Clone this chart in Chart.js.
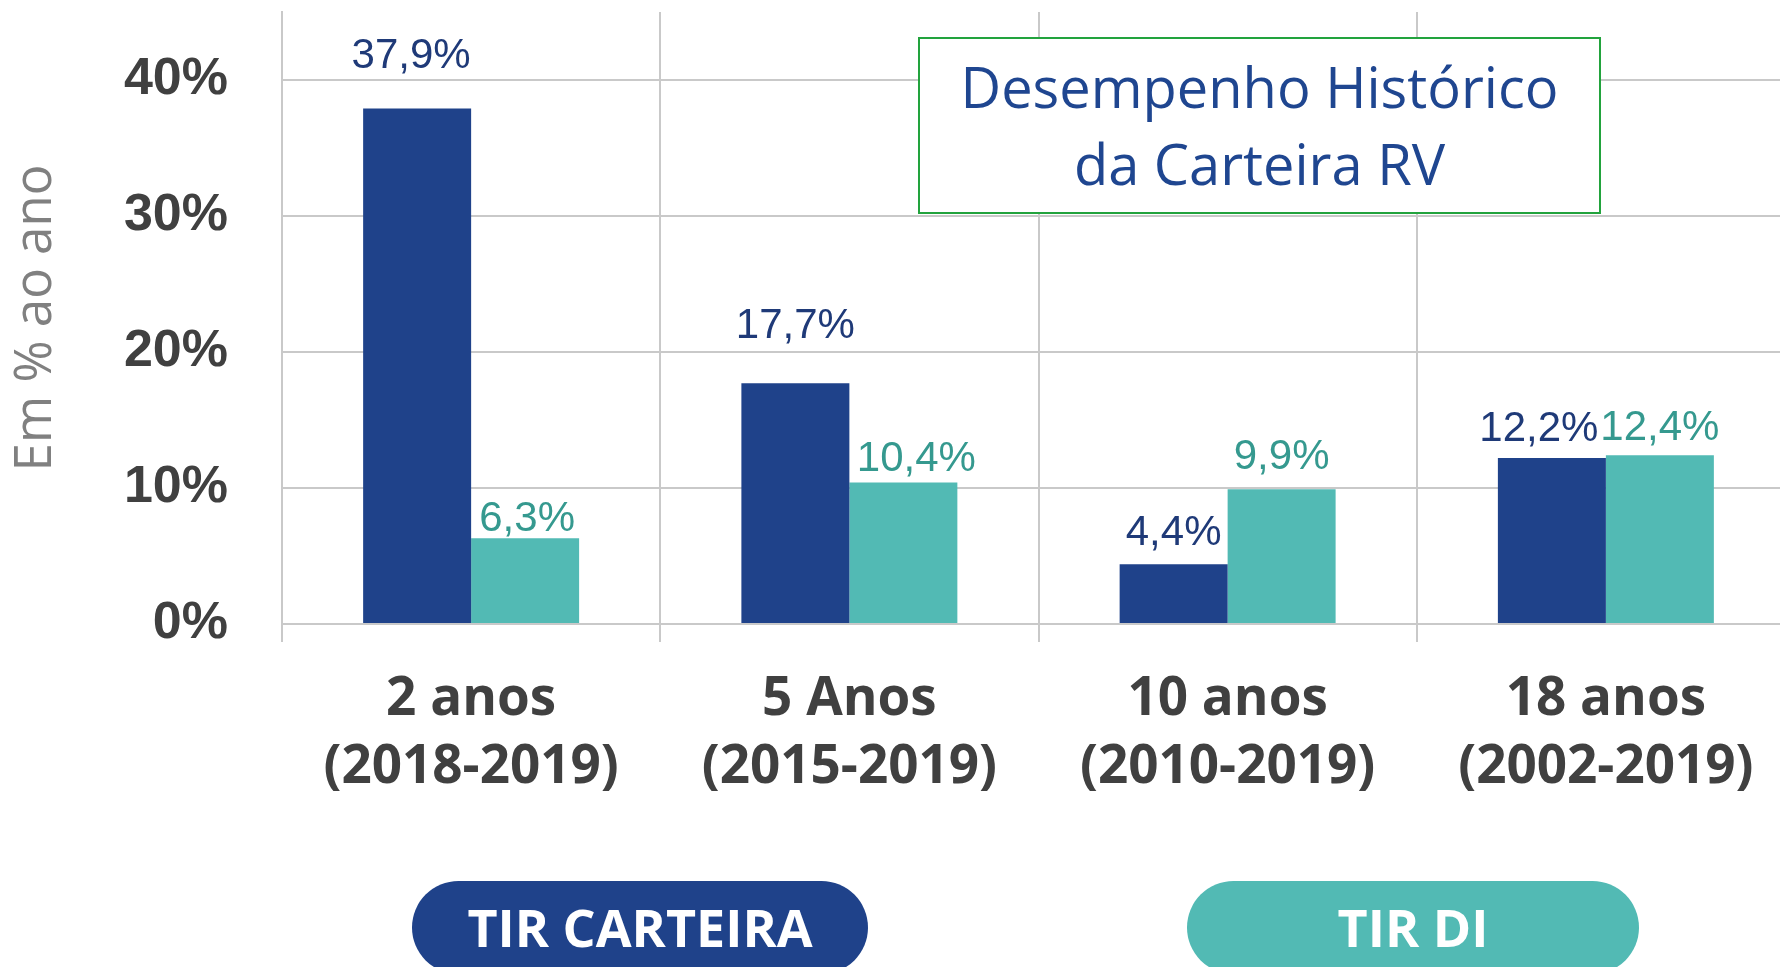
<!DOCTYPE html>
<html lang="pt-BR">
<head>
<meta charset="utf-8">
<title>Desempenho Histórico da Carteira RV</title>
<script src="https://cdn.jsdelivr.net/npm/chart.js@4.4.1/dist/chart.umd.min.js"></script>
<style>
    html, body { margin: 0; padding: 0; background: #ffffff; overflow: hidden; }
    canvas { display: block; }
</style>
</head>
<body>
<canvas id="rvChart" width="1796" height="967"></canvas>
<script>
const periodNames = ["2 anos", "5 Anos", "10 anos", "18 anos"];
const periodYears = ["(2018-2019)", "(2015-2019)", "(2010-2019)", "(2002-2019)"];
const tirCarteira = [37.9, 17.7, 4.4, 12.2];
const tirDI = [6.3, 10.4, 9.9, 12.4];
const yTicks = [0, 10, 20, 30, 40];
const seriesNames = ["TIR CARTEIRA", "TIR DI"];

// value labels were placed by hand, so each one keeps its own gap above the bar and sideways shift
const labelGap = [[41, 45, 19, 17], [7, 12, 20, 15]];
const labelShift = [[-6, 0, 0, -13], [2, 13, 0, 0]];

const gridColor = "#c9c9c9";
const axisText = "#404040";
const navy = "#1f428a";
const teal = "#52bab4";

const pct = value => `${value.toFixed(1).replace(".", ",")}%`;

const valueLabels = {
    id: "valueLabels",
    afterDatasetsDraw(chart, args, options) {
        const { ctx } = chart;
        ctx.save();
        ctx.font = "42px 'Liberation Sans', Arial, sans-serif";
        ctx.textAlign = "center";
        ctx.textBaseline = "alphabetic";
        chart.data.datasets.forEach((dataset, i) => {
            ctx.fillStyle = options.colors[i];
            chart.getDatasetMeta(i).data.forEach((bar, j) => {
                ctx.fillText(pct(dataset.data[j]), bar.x + labelShift[i][j], bar.y - labelGap[i][j]);
            });
        });
        ctx.restore();
    }
};

const titleBox = {
    id: "titleBox",
    afterDatasetsDraw(chart, args, options) {
        const { ctx } = chart;
        const { x, y, w, h, lines } = options;
        ctx.save();
        ctx.fillStyle = "#ffffff";
        ctx.fillRect(x, y, w, h);
        ctx.strokeStyle = "#22a33d";
        ctx.lineWidth = 2;
        ctx.strokeRect(x, y, w, h);
        ctx.fillStyle = "#1f4690";
        ctx.font = "56px 'Open Sans', sans-serif";
        ctx.textAlign = "center";
        ctx.textBaseline = "alphabetic";
        ctx.fillText(lines[0], x + w / 2, y + 70);
        ctx.fillText(lines[1], x + w / 2, y + 147);
        ctx.restore();
    }
};

const seriesPills = {
    id: "seriesPills",
    afterDraw(chart, args, options) {
        const { ctx } = chart;
        ctx.save();
        ctx.font = "bold 52px 'Open Sans', sans-serif";
        ctx.textAlign = "center";
        ctx.textBaseline = "alphabetic";
        options.boxes.forEach((box, i) => {
            const dataset = chart.data.datasets[i];
            ctx.fillStyle = dataset.backgroundColor;
            ctx.beginPath();
            ctx.roundRect(box.x, box.y, box.w, box.h, box.h / 2);
            ctx.fill();
            ctx.fillStyle = "#ffffff";
            ctx.fillText(dataset.label, box.x + box.w / 2, box.y + box.h / 2 + 19);
        });
        ctx.restore();
    }
};

new Chart(document.getElementById("rvChart"), {
    type: "bar",
    data: {
        labels: periodNames.map((name, i) => [name, periodYears[i]]),
        datasets: [
            {
                label: seriesNames[0],
                data: tirCarteira,
                backgroundColor: navy,
                borderWidth: 0,
                categoryPercentage: 0.571,
                barPercentage: 1
            },
            {
                label: seriesNames[1],
                data: tirDI,
                backgroundColor: teal,
                borderWidth: 0,
                categoryPercentage: 0.571,
                barPercentage: 1
            }
        ]
    },
    plugins: [valueLabels, titleBox, seriesPills],
    options: {
        responsive: false,
        animation: false,
        layout: { padding: { top: 12, right: 1, left: 0, bottom: 0 } },
        plugins: {
            legend: { display: false },
            tooltip: { enabled: false },
            valueLabels: { colors: ["#1f3a78", "#35998f"] },
            titleBox: {
                x: 919, y: 38, w: 681, h: 175,
                lines: ["Desempenho Histórico", "da Carteira RV"]
            },
            seriesPills: {
                boxes: [
                    { x: 412, y: 881, w: 456, h: 93 },
                    { x: 1187, y: 881, w: 452, h: 93 }
                ]
            }
        },
        scales: {
            x: {
                afterFit: axis => {
                    axis.height = 343;
                    axis.paddingLeft = 0;
                    axis.paddingRight = 0;
                },
                grid: { offset: true, color: gridColor, lineWidth: 2, tickLength: 18 },
                border: { color: gridColor, width: 2 },
                ticks: {
                    padding: 23,
                    color: axisText,
                    font: { family: "'Open Sans', sans-serif", weight: "bold", size: 53, lineHeight: 1.3 }
                }
            },
            y: {
                min: 0,
                max: 45,
                afterBuildTicks: axis => { axis.ticks = yTicks.map(value => ({ value })); },
                afterFit: axis => {
                    axis.width = 282;
                    axis.paddingTop = 0;
                    axis.paddingBottom = 0;
                },
                grid: { color: gridColor, lineWidth: 2, drawTicks: false },
                border: { color: gridColor, width: 2 },
                ticks: {
                    padding: 54,
                    color: axisText,
                    font: { family: "'Liberation Sans', Arial, sans-serif", weight: "bold", size: 52 },
                    callback: value => `${value}%`
                },
                title: {
                    display: true,
                    text: "Em % ao ano",
                    color: "#808080",
                    font: { family: "'Open Sans', sans-serif", size: 51 },
                    padding: { top: 6, bottom: 0 }
                }
            }
        }
    }
});
</script>
</body>
</html>
